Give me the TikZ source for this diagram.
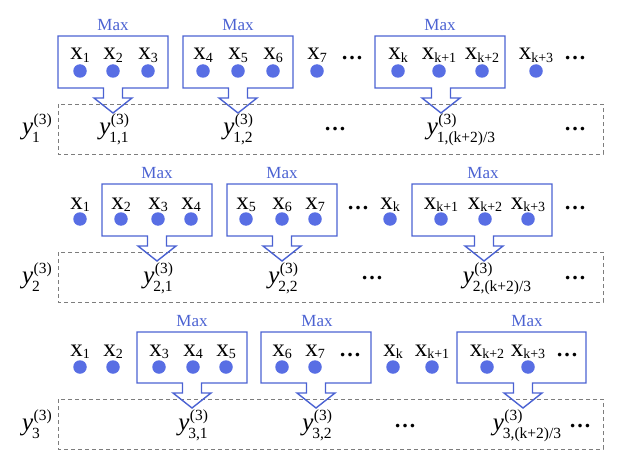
\documentclass[tikz,border=0pt]{standalone}
\usepackage{fontspec}
\setmainfont{Liberation Serif}
\definecolor{dotblue}{RGB}{88,110,228}
\definecolor{boxblue}{RGB}{75,98,210}
\definecolor{dashgray}{RGB}{125,125,125}
\tikzset{
 dotnode/.style={circle,fill=dotblue,inner sep=0pt,minimum size=13.5pt},
 xlab/.style={inner sep=0pt,anchor=base,font=\fontsize{25}{28}\selectfont},
 ylab/.style={inner sep=0pt,anchor=base,font=\fontsize{25}{28}\selectfont},
 ell/.style={inner sep=0pt,anchor=base,font=\fontsize{22}{26}\selectfont\bfseries},
 maxlab/.style={inner sep=0pt,text=boxblue,font=\fontsize{17}{19}\selectfont},
 poolbox/.style={draw=boxblue,line width=1.4pt,line join=miter},
 rowbox/.style={draw=dashgray,dash pattern=on 4pt off 3pt,line width=0.9pt},
}
\newcommand\subfont{\fontsize{14}{14}\selectfont}
\newcommand\ysubfont{\fontsize{15.5}{15}\selectfont}
% input label: x with subscript
\newcommand\xv[1]{x\raisebox{-2.5pt}{\subfont #1}}
% output label: y with superscript (3) and subscript
\newcommand\yv[1]{\textit{y}\rlap{\kern0.5pt\raisebox{10pt}{\ysubfont(3)}}\kern-1pt\raisebox{-8pt}{\ysubfont #1}}
% L R T B tipx
\newcommand\poolshape[5]{%
 \draw[poolbox] (#1,#3) -- (#2,#3) -- (#2,#4) -- ({#5+9.5},#4) -- ({#5+9.5},{#4+10}) -- ({#5+19},{#4+10}) -- (#5,{#4+25}) -- ({#5-19},{#4+10}) -- ({#5-9.5},{#4+10}) -- ({#5-9.5},#4) -- (#1,#4) -- cycle;}
\begin{document}
\begin{tikzpicture}[x=1pt,y=-1pt]
\useasboundingbox (0,0) rectangle (626,476);
% ---------- dashed row boxes
\draw[rowbox] (58,104) rectangle (603,154);
\draw[rowbox] (58,252) rectangle (603,302);
\draw[rowbox] (58,399) rectangle (603,449);
% ---------- pooling boxes
\poolshape{58}{168}{36}{88}{113}
\poolshape{183}{293}{36}{88}{238}
\poolshape{375}{505}{36}{88}{441}
\poolshape{102}{212}{184}{236}{157}
\poolshape{227}{337}{184}{236}{282}
\poolshape{412}{552}{184}{236}{484}
\poolshape{137}{247}{332}{383}{192}
\poolshape{261}{371}{332}{383}{316}
\poolshape{457}{586}{332}{383}{523}
% ---------- Max labels
\node[maxlab] (m11) at (113,25) {Max};
\node[maxlab] (m12) at (238,25) {Max};
\node[maxlab] (m13) at (440,25) {Max};
\node[maxlab] (m21) at (157,173) {Max};
\node[maxlab] (m22) at (282,173) {Max};
\node[maxlab] (m23) at (483,173) {Max};
\node[maxlab] (m31) at (192,321) {Max};
\node[maxlab] (m32) at (317,321) {Max};
\node[maxlab] (m33) at (527,321) {Max};
% ---------- row 1 inputs
\foreach \n/\x/\l in {1/80/1,2/113/2,3/148/3,4/203/4,5/238/5,6/273/6,7/317/7,8/398/k,9/439/k+1,10/482/k+2,11/536/k+3}{
  \node[xlab] (ax\n) at (\x,60) {\xv{\l}};
  \node[dotnode] (ad\n) at (\x,71) {};
}
\node[ell] (ae1) at (352,60) {…};
\node[ell] (ae2) at (575,60) {…};
% ---------- row 2 inputs
\foreach \n/\x/\l in {1/80/1,2/121/2,3/158/3,4/191/4,5/246/5,6/282/6,7/315/7,8/390/k,9/441/k+1,10/485/k+2,11/528/k+3}{
  \node[xlab] (bx\n) at (\x,209) {\xv{\l}};
  \node[dotnode] (bd\n) at (\x,219) {};
}
\node[ell] (be1) at (358,209) {…};
\node[ell] (be2) at (575,209) {…};
% ---------- row 3 inputs
\foreach \n/\x/\l in {1/80/1,2/113/2,3/159/3,4/193/4,5/226/5,6/282/6,7/315/7,8/393/k,9/432/k+1,10/487/k+2,11/528/k+3}{
  \node[xlab] (cx\n) at (\x,356) {\xv{\l}};
  \node[dotnode] (cd\n) at (\x,367) {};
}
\node[ell] (ce1) at (350,356) {…};
\node[ell] (ce2) at (567,356) {…};
% ---------- outputs
\node[ylab] (ya) at (31,135) {\yv{1}};
\node[ylab] (ya1) at (114,135) {\yv{1,1}};
\node[ylab] (ya2) at (238,135) {\yv{1,2}};
\node[ell] (yae1) at (335,131) {…};
\node[ylab] (ya3) at (461,135) {\yv{1,(k+2)/3}};
\node[ell] (yae2) at (575,131) {…};
\node[ylab] (yb) at (31,283) {\yv{2}};
\node[ylab] (yb1) at (158,283) {\yv{2,1}};
\node[ylab] (yb2) at (283,283) {\yv{2,2}};
\node[ell] (ybe1) at (372,279) {…};
\node[ylab] (yb3) at (497,283) {\yv{2,(k+2)/3}};
\node[ell] (ybe2) at (575,279) {…};
\node[ylab] (yc) at (31,430) {\yv{3}};
\node[ylab] (yc1) at (193,430) {\yv{3,1}};
\node[ylab] (yc2) at (317,430) {\yv{3,2}};
\node[ell] (yce1) at (405,427) {…};
\node[ylab] (yc3) at (527,430) {\yv{3,(k+2)/3}};
\node[ell] (yce2) at (580,427) {…};
\end{tikzpicture}
\end{document}
